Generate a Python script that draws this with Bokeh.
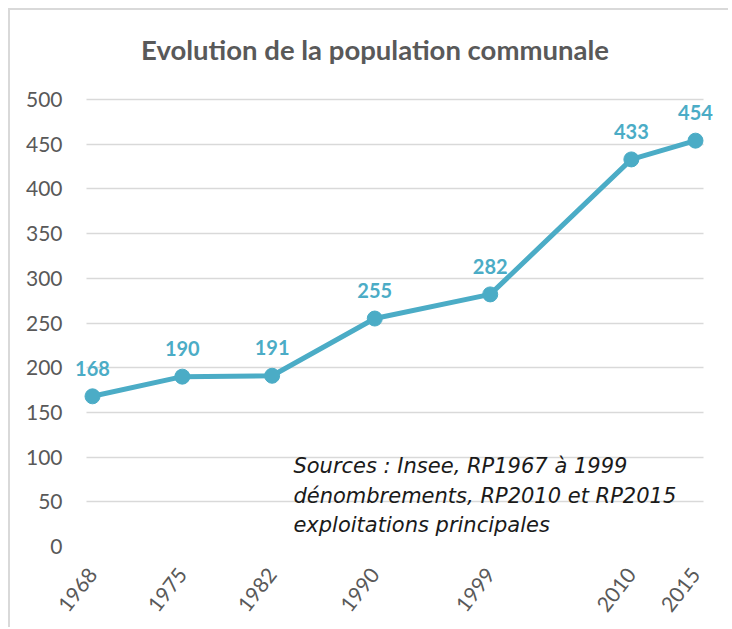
from bokeh.plotting import figure
from bokeh.models import Range1d, FixedTicker, Label, LabelSet, ColumnDataSource
from bokeh.core.properties import value
from bokeh.embed import file_html
from bokeh.resources import INLINE

years = [1968, 1975, 1982, 1990, 1999, 2010, 2015]
population = [168, 190, 191, 255, 282, 433, 454]
y_ticks = [0, 50, 100, 150, 200, 250, 300, 350, 400, 450, 500]
title_text = "Evolution de la population communale"
source_lines = [
    "Sources : Insee, RP1967 à 1999",
    "dénombrements, RP2010 et RP2015",
    "exploitations principales",
]

LINE = "#4BACC6"
GREY = "#595959"
FONT = "Lato"
GRID_X = (1967.53, 2015.62)

src = ColumnDataSource(dict(x=years, y=population, lbl=[str(v) for v in population]))

# frame extends above the 500 gridline so the title can sit inside it
p = figure(width=720, height=619, output_backend="svg", toolbar_location=None,
           x_range=Range1d(1966.285, 2016.637), y_range=Range1d(0, 588.4),
           min_border_left=60, min_border_right=14, min_border_top=10,
           min_border_bottom=83)
p.margin = (8, 0, 0, 8)
p.styles = {"border-left": "2px solid #d9d9d9", "border-top": "2px solid #d9d9d9"}
p.outline_line_color = None
p.background_fill_color = "white"
p.border_fill_color = "white"

p.xgrid.grid_line_color = None
ygrid = p.ygrid[0]
if hasattr(ygrid, "cross_bounds"):
    ygrid.cross_bounds = GRID_X
    ygrid.grid_line_color = "#d9d9d9"
    ygrid.grid_line_width = 1.5
else:
    ygrid.grid_line_color = None
    p.segment(x0=[GRID_X[0]] * len(y_ticks), x1=[GRID_X[1]] * len(y_ticks),
              y0=y_ticks, y1=y_ticks, line_color="#d9d9d9", line_width=1.5)

p.yaxis.ticker = FixedTicker(ticks=y_ticks)
p.xaxis.ticker = FixedTicker(ticks=years)
for ax in (p.xaxis[0], p.yaxis[0]):
    ax.axis_line_color = None
    ax.major_tick_line_color = None
    ax.minor_tick_line_color = None
    ax.major_label_text_color = GREY
    ax.major_label_text_font = FONT
    ax.major_label_text_font_size = "21px"
p.yaxis.major_label_standoff = 2
p.xaxis.major_label_standoff = 18
p.xaxis.major_label_orientation = 0.91

p.line("x", "y", source=src, line_color=LINE, line_width=5)
p.scatter("x", "y", source=src, size=15, fill_color=LINE, line_color=LINE)
p.add_layout(LabelSet(x="x", y="y", text="lbl", source=src, y_offset=28,
                      text_align="center", text_baseline="middle", text_color=LINE,
                      text_font=value(FONT), text_font_style="bold",
                      text_font_size="20px"))

p.add_layout(Label(x=1990.02, y=556, text=title_text, text_align="center",
                   text_baseline="middle", text_color=GREY, text_font=FONT,
                   text_font_style="bold", text_font_size="27.5px"))

src_y = [89.5, 57, 24.6]
for line, yy in zip(source_lines, src_y):
    p.add_layout(Label(x=1983.66, y=yy, text=line, text_align="left",
                       text_baseline="middle", text_color="#1a1a1a",
                       text_font="DejaVu Sans", text_font_style="italic",
                       text_font_size="21px"))

open("out.html", "w").write(file_html(p, INLINE))
